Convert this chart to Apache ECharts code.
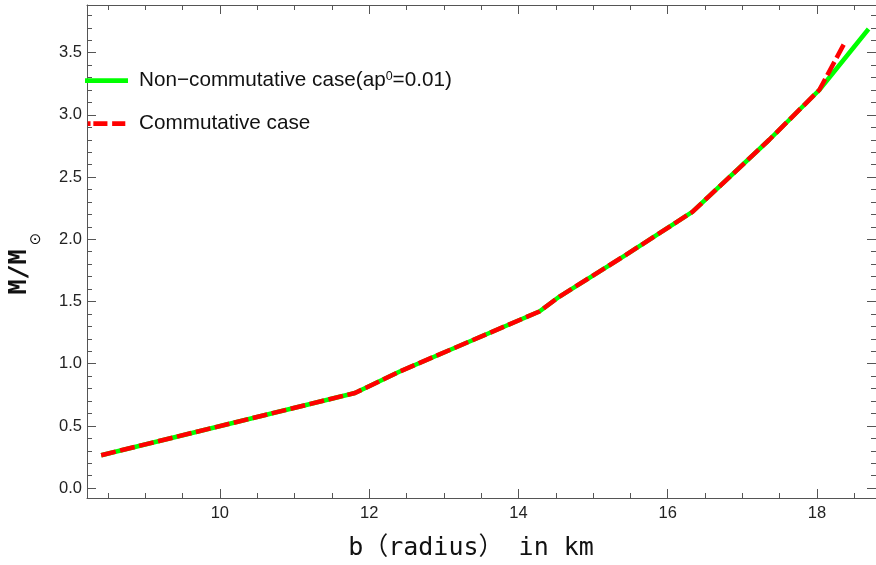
<!DOCTYPE html>
<html>
<head>
<meta charset="utf-8">
<script src="https://cdn.jsdelivr.net/npm/echarts@6/dist/echarts.min.js"></script>
<style>
html,body{margin:0;padding:0;background:#fff;}
#c{width:876px;height:565px;}
</style>
</head>
<body>
<div id="c"></div>
<script>
// ---- data ----
const seriesNames = ['Non\u2212commutative case(ap0=0.01)', 'Commutative case'];
const radiusNC = [8.41, 11.81, 12.41, 14.28, 14.55, 15.44, 16.33, 17.36, 18.03, 18.69];
const massNC   = [0.265, 0.765, 0.938, 1.42, 1.54, 1.875, 2.22, 2.80, 3.20, 3.69];
const radiusC  = [8.41, 11.81, 12.41, 14.28, 14.55, 15.44, 16.33, 17.36, 18.03, 18.38];
const massC    = [0.265, 0.765, 0.938, 1.42, 1.54, 1.875, 2.22, 2.80, 3.20, 3.59];
const xMajorTicks = [10, 12, 14, 16, 18];
const xMinorTicks = [8.5, 9, 9.5, 10.5, 11, 11.5, 12.5, 13, 13.5, 14.5, 15, 15.5, 16.5, 17, 17.5, 18.5];
const yMajorTicks = [0, 0.5, 1, 1.5, 2, 2.5, 3, 3.5];
const yMinorTicks = [0.1,0.2,0.3,0.4,0.6,0.7,0.8,0.9,1.1,1.2,1.3,1.4,1.6,1.7,1.8,1.9,2.1,2.2,2.3,2.4,2.6,2.7,2.8,2.9,3.1,3.2,3.3,3.4,3.6,3.7,3.8];
const xTitle = 'b\uFF08radius\uFF09 in km';
const yTitle = 'M/M';
const yTitleSub = '\u2299';

const X_MIN = 8.22, X_MAX = 18.79, Y_MIN = -0.079, Y_MAX = 3.883;
const frameColor = '#555';
const labelColor = '#222';

function pairs(xs, ys){ return xs.map((x,i)=>[x, ys[i]]); }

function xAx(pos, vals, len, showLine, showLabel){
  return {
    type:'value', position:pos, min:X_MIN, max:X_MAX,
    axisLine:{show:showLine, onZero:false, lineStyle:{color:frameColor, width:1}},
    axisTick:{show:true, inside:true, length:len, customValues:vals, lineStyle:{color:frameColor, width:1}},
    axisLabel:{show:showLabel, customValues:vals, margin:7, fontSize:16.5, fontFamily:'Liberation Sans', color:labelColor,
      formatter:v=>String(v)},
    splitLine:{show:false}
  };
}
function yAx(pos, vals, len, showLine, showLabel){
  return {
    type:'value', position:pos, min:Y_MIN, max:Y_MAX,
    axisLine:{show:showLine, onZero:false, lineStyle:{color:frameColor, width:1}},
    axisTick:{show:true, inside:true, length:len, customValues:vals, lineStyle:{color:frameColor, width:1}},
    axisLabel:{show:showLabel, customValues:vals, margin:5, fontSize:16.5, fontFamily:'Liberation Sans', color:labelColor,
      formatter:v=>Number(v).toFixed(1)},
    splitLine:{show:false}
  };
}

const chart = echarts.init(document.getElementById('c'), null, {renderer:'canvas'});
chart.setOption({
  animation:false,
  backgroundColor:'#fff',
  grid:{left:87, top:5, right:-1, bottom:67, containLabel:false},
  xAxis:[
    xAx('bottom', xMajorTicks, 9, true, true),
    xAx('bottom', xMinorTicks, 5, false, false),
    xAx('top', xMajorTicks, 9, true, false),
    xAx('top', xMinorTicks, 5, false, false)
  ],
  yAxis:[
    yAx('left', yMajorTicks, 9, true, true),
    yAx('left', yMinorTicks, 5, false, false),
    yAx('right', yMajorTicks, 9, true, false),
    yAx('right', yMinorTicks, 5, false, false)
  ],
  legend:{
    orient:'vertical', left:85, top:69.7, padding:0,
    itemWidth:43, itemHeight:4.7, itemGap:20,
    data:[
      {name:seriesNames[0], icon:'rect'},
      {name:seriesNames[1], icon:'path://M0,0h3v5h-3z M6,0h15v5h-15z M26,0h14v5h-14z'}
    ],
    formatter:function(name){
      if(name === seriesNames[0]) return 'Non\u2212commutative case(ap{sup|0}=0.01)';
      return name;
    },
    textStyle:{fontSize:20.7, fontFamily:'Liberation Sans', color:'#111', lineHeight:22, padding:[0,0,0,6],
      rich:{sup:{fontSize:12.5, fontFamily:'Liberation Sans', color:'#111', verticalAlign:'top', lineHeight:12, padding:[0,0,10,0]}}}
  },
  graphic:[
    {type:'text', x:471, y:548, style:{text:xTitle, fontSize:25, fontFamily:'DejaVu Sans Mono, Noto Sans CJK SC', fill:'#111', textAlign:'center', textVerticalAlign:'middle'}},
    {type:'text', x:19.2, y:272, rotation:Math.PI/2, style:{text:yTitle, fontSize:25, fontWeight:'bold', fontFamily:'DejaVu Sans Mono', fill:'#111', textAlign:'center', textVerticalAlign:'middle'}},
    {type:'text', x:36, y:239, rotation:Math.PI/2, style:{text:yTitleSub, fontSize:15, fontFamily:'DejaVu Sans', fill:'#111', textAlign:'center', textVerticalAlign:'middle'}}
  ],
  series:[
    {name:seriesNames[0], type:'line', xAxisIndex:0, yAxisIndex:0, data:pairs(radiusNC, massNC),
      showSymbol:false, symbol:'none', lineStyle:{color:'#00ff00', width:4.5}, itemStyle:{color:'#00ff00'}, z:2},
    {name:seriesNames[1], type:'line', xAxisIndex:0, yAxisIndex:0, data:pairs(radiusC, massC),
      showSymbol:false, symbol:'none', lineStyle:{color:'#ff0000', width:4.5, type:[15,4.5], cap:'butt'}, itemStyle:{color:'#ff0000'}, z:3}
  ]
});
</script>
</body>
</html>
